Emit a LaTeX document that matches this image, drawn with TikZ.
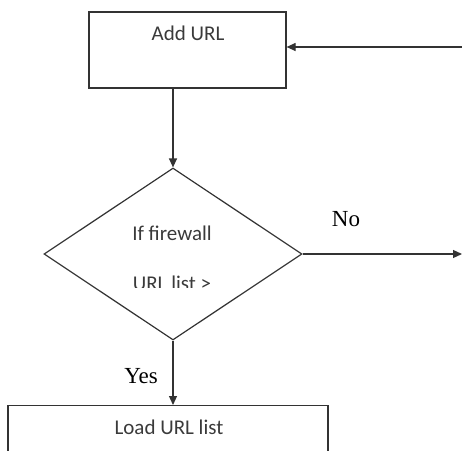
\documentclass[tikz,border=0pt]{standalone}
\usepackage{fontspec}
\setmainfont{Liberation Serif}
\newfontfamily\boxfont{Carlito}
\usetikzlibrary{shapes.geometric,arrows.meta}
\definecolor{ink}{HTML}{333333}
\definecolor{txt}{HTML}{3A3A3A}
\tikzset{
  flowline/.style={draw=ink, line width=1.2pt},
  arrowline/.style={flowline, -{Triangle[length=9pt,width=8pt]}},
  procbox/.style={rectangle, draw=ink, line width=1.2pt, inner sep=0pt},
  decision/.style={diamond, draw=ink, line width=1.2pt, inner sep=0pt},
  boxtext/.style={font=\boxfont\fontsize{21}{25}\selectfont, text=txt, inner sep=0pt},
  edgetext/.style={font=\fontsize{23}{27}\selectfont, text=black, inner sep=0pt},
}
\begin{document}
\begin{tikzpicture}[x=1pt, y=-1pt]
\useasboundingbox (0,0) rectangle (462,450);
\clip (0,0) rectangle (462,450);

% process box at the top
\node[procbox, minimum width=197pt, minimum height=76pt] (add) at (187.5,50) {};
\node[boxtext] (addtxt) at (188,33) {Add URL};

% decision
\node[decision, minimum width=258pt, minimum height=172pt] (dec) at (173,254) {};
\node[boxtext] (dectxt) at (172,233) {If firewall};
\begin{scope}
  \clip (100,262) rectangle (250,287);
  \node[boxtext] (dectxtb) at (172,283) {URL list >};
\end{scope}

% process box at the bottom, running past the lower edge
\node[procbox, minimum width=320pt, minimum height=90pt, anchor=north] (load) at (168,405) {};
\node[boxtext] (loadtxt) at (169,427) {Load URL list};

% loose ends at the right edge
\coordinate (back) at (463,47);
\coordinate (noend) at (462,254);

% connectors
\draw[arrowline] (dec.north |- add.south) -- (dec.north);
\draw[arrowline] (dec.east) -- (noend);
\draw[arrowline] (dec.south) -- (dec.south |- load.north);
\draw[arrowline] (back) -- (back -| add.east);

% edge labels
\node[edgetext] (nolbl) at (346,219) {No};
\node[edgetext] (yeslbl) at (141,376) {Yes};
\end{tikzpicture}
\end{document}
